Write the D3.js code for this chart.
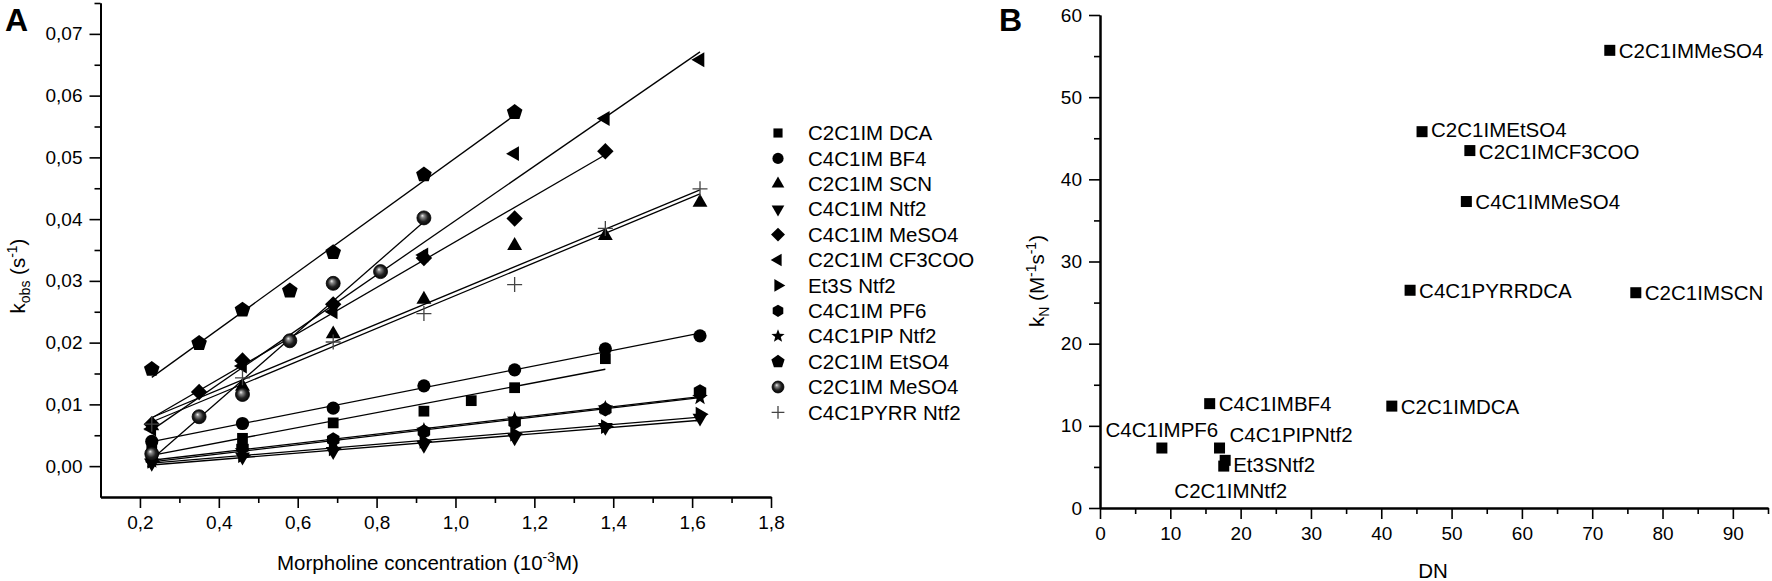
<!DOCTYPE html>
<html>
<head>
<meta charset="utf-8">
<script src="https://cdn.jsdelivr.net/npm/d3@7"></script>
<style>
  body { margin: 0; background: #fff; }
  text { font-family: "Liberation Sans", Arial, sans-serif; fill: #000; }
</style>
</head>
<body>
<svg id="chart"></svg>
<script>
const width = 1772;
const height = 581;

// ---- panel A : kobs vs morpholine concentration ----
const seriesNames = ['C2C1IM DCA', 'C4C1IM BF4', 'C2C1IM SCN', 'C4C1IM Ntf2', 'C4C1IM MeSO4', 'C2C1IM CF3COO',
  'Et3S Ntf2', 'C4C1IM PF6', 'C4C1PIP Ntf2', 'C2C1IM EtSO4', 'C2C1IM MeSO4', 'C4C1PYRR Ntf2'];
const seriesSymbols = ['square', 'circle', 'triUp', 'triDown', 'diamond', 'triLeft',
  'triRight', 'hexagon', 'star', 'pentagon', 'sphere', 'plus'];

const concStd = [0.23, 0.46, 0.69, 0.92, 1.15, 1.38, 1.62];
const concDCA = [0.23, 0.46, 0.69, 0.92, 1.04, 1.15, 1.38];
const concFine = [0.23, 0.35, 0.46, 0.69, 0.92, 1.15, 1.38];
const concLow = [0.23, 0.35, 0.46, 0.58, 0.69, 0.92, 1.15];
const concMe = [0.23, 0.35, 0.46, 0.58, 0.69, 0.81, 0.92];

const kDCA = [0.0028, 0.0045, 0.0070, 0.0089, 0.0106, 0.0127, 0.0174];
const kBF4 = [0.0040, 0.0069, 0.0094, 0.0130, 0.0156, 0.0190, 0.0211];
const kSCN = [0.0065, 0.0129, 0.0214, 0.0270, 0.0357, 0.0373, 0.0427];
const kC4Ntf2 = [0.0005, 0.0015, 0.0024, 0.0034, 0.0046, 0.0063, 0.0078];
const kC4MeSO4 = [0.0068, 0.0120, 0.0171, 0.0262, 0.0337, 0.0401, 0.0510];
const kCF3COO = [0.0060, 0.0162, 0.0250, 0.0342, 0.0506, 0.0563, 0.0658];
const kEt3S = [0.0008, 0.0017, 0.0028, 0.0040, 0.0052, 0.0064, 0.0084];
const kPF6 = [0.0012, 0.0030, 0.0043, 0.0056, 0.0071, 0.0092, 0.0121];
const kPIP = [0.0008, 0.0025, 0.0039, 0.0058, 0.0076, 0.0094, 0.0111];
const kEtSO4 = [0.0157, 0.0199, 0.0253, 0.0284, 0.0346, 0.0472, 0.0573];
const kC2MeSO4 = [0.0020, 0.0080, 0.0116, 0.0203, 0.0296, 0.0315, 0.0402];
const kPYRR = [0.0068, 0.0143, 0.0201, 0.0247, 0.0294, 0.0385, 0.0449];

const seriesX = [concDCA, concStd, concStd, concStd, concFine, concStd, concStd, concStd, concStd, concLow, concMe, concStd];
const seriesY = [kDCA, kBF4, kSCN, kC4Ntf2, kC4MeSO4, kCF3COO, kEt3S, kPF6, kPIP, kEtSO4, kC2MeSO4, kPYRR];

const xTicksA = [0.2, 0.4, 0.6, 0.8, 1.0, 1.2, 1.4, 1.6, 1.8];
const yTicksA = [0, 0.01, 0.02, 0.03, 0.04, 0.05, 0.06, 0.07];

// ---- panel B : kN vs DN ----
const ilNames = ['C2C1IMMeSO4', 'C2C1IMEtSO4', 'C2C1IMCF3COO', 'C4C1IMMeSO4', 'C4C1PYRRDCA', 'C2C1IMSCN',
  'C2C1IMDCA', 'C4C1IMBF4', 'C4C1IMPF6', 'C4C1PIPNtf2', 'Et3SNtf2', 'C2C1IMNtf2'];
const donorNumber = [72.5, 45.8, 52.6, 52.1, 44.1, 76.2, 41.5, 15.6, 8.8, 17.0, 17.8, 17.6];
const kN = [55.7, 45.8, 43.5, 37.3, 26.5, 26.2, 12.4, 12.7, 7.3, 7.3, 5.8, 5.1];
const xTicksB = [0, 10, 20, 30, 40, 50, 60, 70, 80, 90];
const yTicksB = [0, 10, 20, 30, 40, 50, 60];

// label placement for panel B (dx, dy, anchor)
const labelPlace = {
  'C2C1IMEtSO4': [9, -2, 'start'],
  'C2C1IMCF3COO': [9, 1, 'start'],
  'C4C1IMPF6': [0, -18, 'middle'],
  'C4C1PIPNtf2': [10, -13, 'start'],
  'Et3SNtf2': [8, 4, 'start'],
  'C2C1IMNtf2': [7, 25, 'middle']
};

const fontTick = 19;
const fontLabel = 20.5;
const comma = d3.formatLocale({decimal: ',', thousands: '.', grouping: [3], currency: ['', '']});

const svg = d3.select('#chart')
  .attr('width', width)
  .attr('height', height);

svg.append('rect').attr('width', width).attr('height', height).attr('fill', '#fff');

const defs = svg.append('defs');
const grad = defs.append('radialGradient')
  .attr('id', 'sphere')
  .attr('cx', '0.5').attr('cy', '0.5').attr('r', '0.55')
  .attr('fx', '0.38').attr('fy', '0.33');
grad.append('stop').attr('offset', '0%').attr('stop-color', '#f2f2f2');
grad.append('stop').attr('offset', '22%').attr('stop-color', '#8a8a8a');
grad.append('stop').attr('offset', '60%').attr('stop-color', '#222');
grad.append('stop').attr('offset', '100%').attr('stop-color', '#000');

// custom symbol types, size = radius in px
function polygon(n, rot) {
  return {
    draw(ctx, r) {
      for (let i = 0; i < n; i++) {
        const a = rot + i * 2 * Math.PI / n;
        const px = r * Math.sin(a), py = -r * Math.cos(a);
        if (i === 0) ctx.moveTo(px, py); else ctx.lineTo(px, py);
      }
      ctx.closePath();
    }
  };
}
const circleType = { draw(ctx, r) { ctx.moveTo(r, 0); ctx.arc(0, 0, r, 0, 2 * Math.PI); } };
const starType = {
  draw(ctx, r) {
    for (let i = 0; i < 10; i++) {
      const a = i * Math.PI / 5;
      const rr = i % 2 ? r * 0.42 : r;
      const px = rr * Math.sin(a), py = -rr * Math.cos(a);
      if (i === 0) ctx.moveTo(px, py); else ctx.lineTo(px, py);
    }
    ctx.closePath();
  }
};
const plusType = { draw(ctx, r) { ctx.moveTo(-r, 0); ctx.lineTo(r, 0); ctx.moveTo(0, -r); ctx.lineTo(0, r); } };

const symbolDefs = {
  square: [polygon(4, Math.PI / 4), 7.6],
  circle: [circleType, 6.6],
  triUp: [polygon(3, 0), 8.6],
  triDown: [polygon(3, Math.PI), 8.6],
  diamond: [polygon(4, 0), 8.2],
  triLeft: [polygon(3, -Math.PI / 2), 8.6],
  triRight: [polygon(3, Math.PI / 2), 8.6],
  hexagon: [polygon(6, 0), 7.2],
  star: [starType, 8.2],
  pentagon: [polygon(5, 0), 8.2],
  sphere: [circleType, 7],
  plus: [plusType, 7.5]
};

function drawSymbol(sel, name, scale) {
  const [type, r] = symbolDefs[name];
  sel.append('path')
    .attr('d', d3.symbol().type(type).size(r * scale)())
    .attr('fill', name === 'sphere' ? 'url(#sphere)' : (name === 'plus' ? 'none' : '#000'))
    .attr('stroke', name === 'sphere' ? '#000' : (name === 'plus' ? '#444' : 'none'))
    .attr('stroke-width', name === 'plus' ? 1.3 : 0.8);
}

function styleAxis(g) {
  g.select('.domain').attr('stroke-width', 2);
  g.selectAll('.tick line').attr('stroke-width', 1.6);
  g.selectAll('.tick text').style('font-size', fontTick + 'px').style('font-family', '"Liberation Sans", Arial, sans-serif');
}

// least squares fit of one series
function fitLine(xs, ys) {
  const mx = d3.mean(xs), my = d3.mean(ys);
  const slope = d3.sum(xs, (x, i) => (x - mx) * (ys[i] - my)) / d3.sum(xs, x => (x - mx) * (x - mx));
  return [d3.min(xs), d3.max(xs)].map(x => [x, my + slope * (x - mx)]);
}

// ================= panel A =================
const xA = d3.scaleLinear().domain([0.1, 1.8]).range([100.5, 771]);
const yA = d3.scaleLinear().domain([-0.005, 0.075]).range([497, 3]);

const gA = svg.append('g').attr('class', 'panel-a');

const lineA = d3.line().x(d => xA(d[0])).y(d => yA(d[1]));
gA.selectAll('.fit')
  .data(seriesY.map((ys, i) => fitLine(seriesX[i], ys)))
  .join('path')
  .attr('class', 'fit')
  .attr('d', lineA)
  .attr('fill', 'none')
  .attr('stroke', '#000')
  .attr('stroke-width', 1.3);

seriesY.forEach((ys, i) => {
  ys.forEach((v, j) => {
    const p = gA.append('g').attr('transform', `translate(${xA(seriesX[i][j])},${yA(v)})`);
    drawSymbol(p, seriesSymbols[i], 1);
  });
});

gA.append('g')
  .attr('transform', 'translate(0,497)')
  .call(d3.axisBottom(xA).tickValues(xTicksA.map(d => d + 0.1).slice(0, -1)).tickFormat('').tickSize(6).tickSizeOuter(0))
  .call(styleAxis);
gA.append('g')
  .attr('transform', 'translate(0,497)')
  .call(d3.axisBottom(xA).tickValues(xTicksA).tickFormat(comma.format('.1f')).tickSize(11).tickPadding(8).tickSizeOuter(0))
  .call(styleAxis);

gA.append('g')
  .attr('transform', 'translate(100.5,0)')
  .call(d3.axisLeft(yA).tickValues(yTicksA.map(d => d + 0.005)).tickFormat('').tickSize(6).tickSizeOuter(0))
  .call(styleAxis);
gA.append('g')
  .attr('transform', 'translate(100.5,0)')
  .call(d3.axisLeft(yA).tickValues(yTicksA).tickFormat(comma.format('.2f')).tickSize(11).tickPadding(7).tickSizeOuter(0))
  .call(styleAxis);

const xLabA = gA.append('text')
  .attr('x', 428).attr('y', 570)
  .attr('text-anchor', 'middle')
  .style('font-size', fontLabel + 'px');
xLabA.append('tspan').text('Morpholine concentration (10');
xLabA.append('tspan').attr('dy', -8).style('font-size', '14px').text('-3');
xLabA.append('tspan').attr('dy', 8).text('M)');

const yLabA = gA.append('text')
  .attr('transform', 'translate(25,276) rotate(-90)')
  .attr('text-anchor', 'middle')
  .style('font-size', fontLabel + 'px');
yLabA.append('tspan').text('k');
yLabA.append('tspan').attr('dy', 5).style('font-size', '14px').text('obs');
yLabA.append('tspan').attr('dy', -5).text(' (s');
yLabA.append('tspan').attr('dy', -8).style('font-size', '14px').text('-1');
yLabA.append('tspan').attr('dy', 8).text(')');

gA.append('text')
  .attr('x', 5).attr('y', 31)
  .style('font-size', '32px').style('font-weight', 'bold')
  .text('A');

// legend
const legend = gA.selectAll('.legend-row')
  .data(seriesNames)
  .join('g')
  .attr('class', 'legend-row')
  .attr('transform', (d, i) => `translate(778,${133 + i * 25.4})`);
legend.each(function(d, i) { drawSymbol(d3.select(this), seriesSymbols[i], 0.85); });
legend.append('text')
  .attr('x', 30)
  .attr('dy', '0.35em')
  .style('font-size', fontLabel + 'px')
  .text(d => d);

// ================= panel B =================
const xB = d3.scaleLinear().domain([0, 95]).range([1100, 1768]);
const yB = d3.scaleLinear().domain([0, 60]).range([508, 15]);
const gB = svg.append('g').attr('class', 'panel-b');

gB.append('g')
  .attr('transform', 'translate(0,508)')
  .call(d3.axisBottom(xB).tickValues(xTicksB.map(d => d + 5)).tickFormat('').tickSize(6).tickSizeOuter(0))
  .call(styleAxis);
gB.append('g')
  .attr('transform', 'translate(0,508)')
  .call(d3.axisBottom(xB).tickValues(xTicksB).tickSize(11).tickPadding(8).tickSizeOuter(0))
  .call(styleAxis);
gB.append('g')
  .attr('transform', 'translate(1100,0)')
  .call(d3.axisLeft(yB).tickValues(yTicksB.slice(0, -1).map(d => d + 5)).tickFormat('').tickSize(6).tickSizeOuter(0))
  .call(styleAxis);
gB.append('g')
  .attr('transform', 'translate(1100,0)')
  .call(d3.axisLeft(yB).tickValues(yTicksB).tickSize(11).tickPadding(7).tickSizeOuter(0))
  .call(styleAxis);

const pts = gB.selectAll('.il')
  .data(ilNames)
  .join('g')
  .attr('class', 'il')
  .attr('transform', (d, i) => `translate(${xB(donorNumber[i])},${yB(kN[i])})`);
pts.append('rect')
  .attr('x', -5.5).attr('y', -5.5)
  .attr('width', 11).attr('height', 11)
  .attr('fill', '#000');
pts.append('text')
  .attr('x', d => (labelPlace[d] || [9])[0])
  .attr('y', d => (labelPlace[d] || [9, 0])[1])
  .attr('dy', '0.36em')
  .attr('text-anchor', d => (labelPlace[d] || [9, 0, 'start'])[2])
  .style('font-size', fontLabel + 'px')
  .text(d => d);

gB.append('text')
  .attr('x', 1433).attr('y', 578)
  .attr('text-anchor', 'middle')
  .style('font-size', fontLabel + 'px')
  .text('DN');

const yLabB = gB.append('text')
  .attr('transform', 'translate(1044,281) rotate(-90)')
  .attr('text-anchor', 'middle')
  .style('font-size', fontLabel + 'px');
yLabB.append('tspan').text('k');
yLabB.append('tspan').attr('dy', 5).style('font-size', '14px').text('N');
yLabB.append('tspan').attr('dy', -5).text(' (M');
yLabB.append('tspan').attr('dy', -8).style('font-size', '14px').text('-1');
yLabB.append('tspan').attr('dy', 8).text('s');
yLabB.append('tspan').attr('dy', -8).style('font-size', '14px').text('-1');
yLabB.append('tspan').attr('dy', 8).text(')');

gB.append('text')
  .attr('x', 999).attr('y', 31)
  .style('font-size', '32px').style('font-weight', 'bold')
  .text('B');
</script>
</body>
</html>
